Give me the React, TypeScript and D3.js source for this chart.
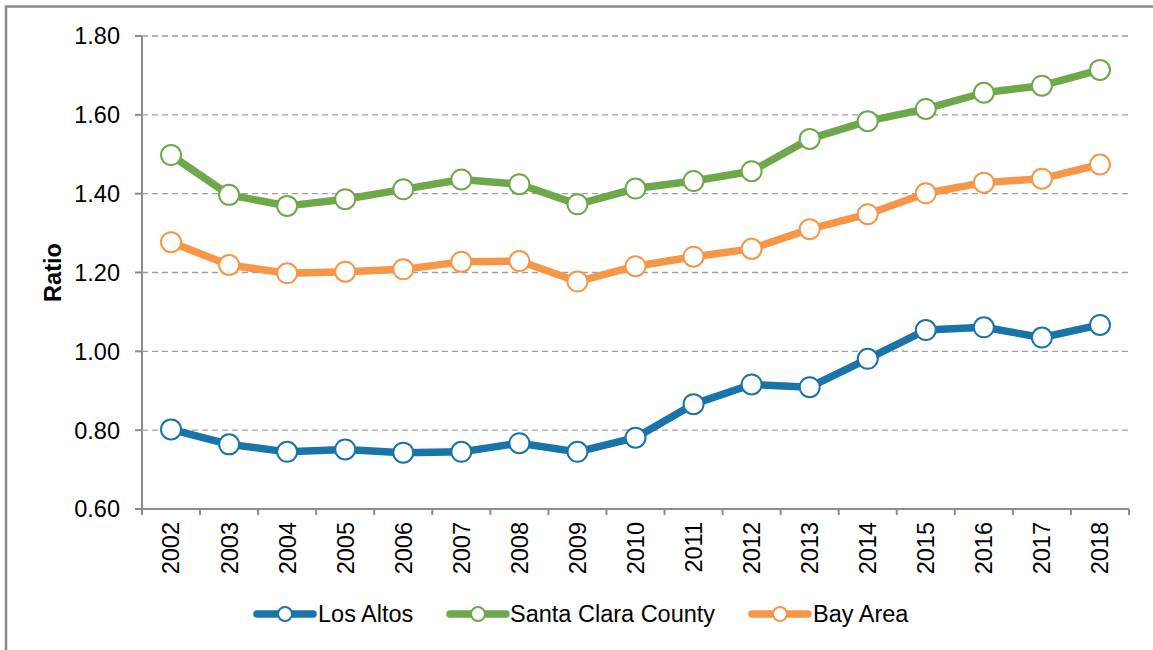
import React from "react";
import * as d3 from "d3";

const years = ["2002","2003","2004","2005","2006","2007","2008","2009","2010","2011","2012","2013","2014","2015","2016","2017","2018"];
const losAltos = [0.802,0.764,0.745,0.751,0.743,0.745,0.767,0.745,0.781,0.866,0.916,0.909,0.981,1.054,1.061,1.035,1.067];
const santaClara = [1.498,1.397,1.369,1.386,1.411,1.436,1.424,1.373,1.413,1.432,1.457,1.539,1.584,1.615,1.656,1.674,1.714];
const bayArea = [1.277,1.219,1.198,1.202,1.208,1.227,1.229,1.177,1.216,1.240,1.260,1.310,1.348,1.401,1.428,1.438,1.474];
const yTicks = [0.6,0.8,1.0,1.2,1.4,1.6,1.8];
const seriesNames = ["Los Altos","Santa Clara County","Bay Area"];
const seriesColors = ["#1874A9","#6EA84B","#F79646"];

const W = 1153, H = 650;
const L = 142, R = 1129, T = 36, B = 509;
const FONT = "'Liberation Sans', Arial, sans-serif";
const FS = 23.5;

export default function App() {
  const x = d3.scaleBand<string>().domain(years).range([L, R]);
  const y = d3.scaleLinear().domain([0.6, 1.8]).range([B, T]);
  const cx = (yr: string) => (x(yr) as number) + x.bandwidth() / 2;
  const line = d3.line<number>().x((_, i) => cx(years[i])).y((v) => y(v));
  const all = [losAltos, santaClara, bayArea];
  const legendItems = [
    { lx: 257, tx: 318 },
    { lx: 450, tx: 510 },
    { lx: 752, tx: 813 },
  ];
  const ly = 614;
  return (
    <svg width={W} height={H} style={{ position: "absolute", left: 0, top: 0 }}>
      <rect x={0} y={0} width={W} height={H} fill="#fff" />
      <rect x={6} y={6.5} width={1160} height={680} fill="none" stroke="#8a8a8a" strokeWidth={2.5} />
      {yTicks.map((t) => (
        <g key={t}>
          {t > 0.6 && (
            <line x1={L} x2={R} y1={y(t)} y2={y(t)} stroke="#a0a0a0" strokeWidth={1.4} strokeDasharray="6,4" />
          )}
          <line x1={135} x2={L} y1={y(t)} y2={y(t)} stroke="#8c8c8c" strokeWidth={2} />
          <text x={120} y={y(t)} dy="0.36em" textAnchor="end" fontFamily={FONT} fontSize={FS} fill="#000">
            {t.toFixed(2)}
          </text>
        </g>
      ))}
      <line x1={L} x2={L} y1={T} y2={B + 6} stroke="#8c8c8c" strokeWidth={2} />
      <line x1={L} x2={R} y1={B} y2={B} stroke="#8c8c8c" strokeWidth={2} />
      {years.map((yr) => (
        <line key={"t" + yr} x1={x(yr) as number} x2={x(yr) as number} y1={B} y2={B + 6} stroke="#8c8c8c" strokeWidth={2} />
      ))}
      <line x1={R} x2={R} y1={B} y2={B + 6} stroke="#8c8c8c" strokeWidth={2} />
      {years.map((yr) => (
        <text key={"l" + yr} transform={`translate(${cx(yr)},522) rotate(-90)`} dy="0.36em" textAnchor="end" fontFamily={FONT} fontSize={FS} fill="#000">
          {yr}
        </text>
      ))}
      <text transform={`translate(53,${(T + B) / 2}) rotate(-90)`} dy="0.36em" textAnchor="middle" fontFamily={FONT} fontSize={FS} fontWeight="bold" fill="#000">
        Ratio
      </text>
      {all.map((s, si) => (
        <g key={"s" + si}>
          <path d={line(s) as string} fill="none" stroke={seriesColors[si]} strokeWidth={7.5} strokeLinejoin="round" />
          {s.map((v, i) => (
            <circle key={i} cx={cx(years[i])} cy={y(v)} r={10} fill="#fff" stroke={seriesColors[si]} strokeWidth={2} />
          ))}
        </g>
      ))}
      {legendItems.map((it, si) => (
        <g key={"lg" + si}>
          <line x1={it.lx} x2={it.lx + 56} y1={ly} y2={ly} stroke={seriesColors[si]} strokeWidth={7.5} strokeLinecap="round" />
          <circle cx={it.lx + 28} cy={ly} r={7} fill="#fff" stroke={seriesColors[si]} strokeWidth={2} />
          <text x={it.tx} y={ly} dy="0.36em" fontFamily={FONT} fontSize={FS} fill="#000">
            {seriesNames[si]}
          </text>
        </g>
      ))}
    </svg>
  );
}
